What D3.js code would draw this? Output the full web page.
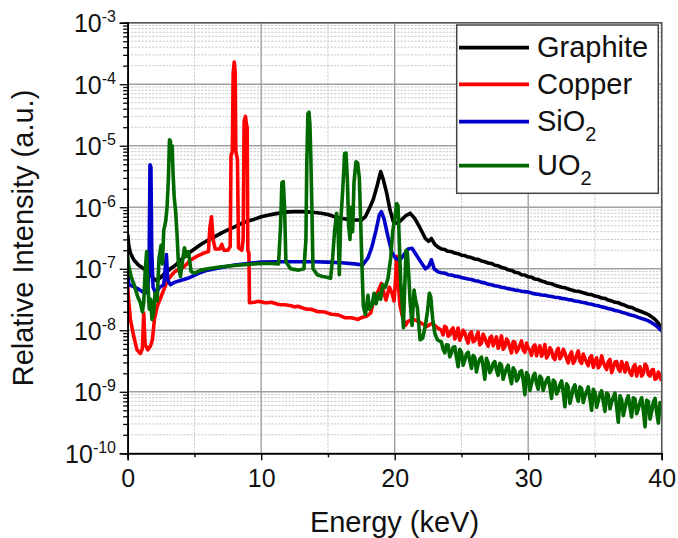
<!DOCTYPE html>
<html>
<head>
<meta charset="utf-8">
<script src="https://cdn.jsdelivr.net/npm/d3@7"></script>
<style>
  body { margin: 0; background: #fff; }
  svg { display: block; }
  text { font-family: "Liberation Sans", Arial, sans-serif; fill: #111; }
</style>
</head>
<body>
<svg id="chart" width="678" height="538"></svg>
<script>
// ---- Spectra: [energy keV, relative intensity] ----
const graphite = [
  [0,3.6e-7],[0.08,2.4e-7],[0.2,1.8e-7],[0.45,1.4e-7],[0.8,1.15e-7],[1.2,1.0e-7],[1.5,9e-8],[1.8,7.5e-8],
  [2.1,6.5e-8],[2.4,7e-8],[2.8,8.5e-8],[3.2,1.0e-7],[3.6,1.15e-7],[4.0,1.4e-7],[4.5,1.75e-7],[5.0,2.1e-7],
  [5.5,2.5e-7],[6.0,2.9e-7],[6.5,3.3e-7],[7.0,3.8e-7],[7.5,4.3e-7],[8.0,4.8e-7],[8.5,5.4e-7],[9.0,6.0e-7],
  [9.5,6.4e-7],[10.0,7.0e-7],[10.5,7.4e-7],[11.0,7.8e-7],[11.5,8.1e-7],[12.0,8.4e-7],[12.5,8.5e-7],[13.0,8.5e-7],
  [13.5,8.4e-7],[14.0,8.2e-7],[14.5,8.0e-7],[15.0,7.6e-7],[15.5,7.0e-7],[16.0,6.6e-7],[16.5,6.3e-7],[17.0,6.2e-7],
  [17.5,6.2e-7],[17.8,7.0e-7],[18.1,9.5e-7],[18.4,1.35e-6],[18.7,2.3e-6],[18.95,3.8e-6],[19.15,2.8e-6],[19.4,1.7e-6],
  [19.65,9e-7],[19.9,5.8e-7],[20.2,5.5e-7],[20.5,6.2e-7],[20.8,7.2e-7],[21.15,8.0e-7],[21.5,6.6e-7],[21.9,4.6e-7],
  [22.3,3.1e-7],[22.55,2.8e-7],[22.75,3.1e-7],[23.0,2.5e-7],[23.25,2.25e-7],
  [23.5,2.1e-7],[23.75,2.05e-7],[24,1.92e-7],[24.25,1.9e-7],[24.5,1.8e-7],[24.75,1.76e-7],[25,1.66e-7],[25.25,1.64e-7],
  [25.5,1.55e-7],[25.75,1.52e-7],[26,1.44e-7],[26.25,1.42e-7],[26.5,1.34e-7],[26.75,1.3e-7],[27,1.24e-7],[27.25,1.22e-7],
  [27.5,1.14e-7],[27.75,1.12e-7],[28,1.05e-7],[28.25,1.02e-7],[28.5,9.6e-8],[28.75,9.4e-8],[29,8.8e-8],[29.25,8.6e-8],
  [29.5,8.0e-8],[29.75,7.9e-8],[30,7.4e-8],[30.25,7.3e-8],[30.5,6.8e-8],[30.75,6.7e-8],[31,6.3e-8],[31.25,6.1e-8],
  [31.5,5.8e-8],[31.75,5.7e-8],[32,5.4e-8],[32.25,5.2e-8],[32.5,5.0e-8],[32.75,4.9e-8],[33,4.7e-8],[33.25,4.5e-8],
  [33.5,4.35e-8],[33.75,4.3e-8],[34,4.15e-8],[34.25,4.0e-8],[34.5,3.85e-8],[34.75,3.8e-8],[35,3.6e-8],[35.25,3.5e-8],
  [35.5,3.35e-8],[35.75,3.3e-8],[36,3.1e-8],[36.25,3.0e-8],[36.5,2.85e-8],[36.75,2.8e-8],[37,2.65e-8],[37.25,2.55e-8],
  [37.5,2.4e-8],[37.75,2.35e-8],[38,2.2e-8],[38.25,2.1e-8],[38.5,2.0e-8],[38.75,1.9e-8],[39,1.8e-8],[39.25,1.65e-8],
  [39.5,1.5e-8],[39.75,1.3e-8],[40,1.08e-8]
];

const copperMain = [
  [0,5.5e-8],[0.05,3.5e-8],[0.2,1.5e-8],[0.45,8e-9],[0.7,4.8e-9],[0.95,4.2e-9],[1.1,5e-9],[1.2,1.9e-8],[1.3,6e-9],
  [1.5,4.8e-9],[1.7,5.5e-9],[1.85,7e-9],[2.0,1.5e-8],[2.2,2.4e-8],[2.6,4e-8],[3.0,6.6e-8],[3.5,8.9e-8],[4.2,1.07e-7],
  [4.7,1.38e-7],[5.2,1.6e-7],[5.7,1.8e-7],[6.05,1.9e-7],[6.15,4.5e-7],[6.28,7e-7],[6.4,3e-7],[6.55,2.1e-7],[6.9,2.1e-7],
  [7.05,2.5e-7],[7.2,2.0e-7],[7.5,2.0e-7],[7.68,2.3e-7],[7.74,7e-6],[7.84,8e-6],[7.9,1.5e-4],[7.98,2.3e-4],[8.05,1.6e-4],
  [8.1,8e-6],[8.22,6e-6],[8.3,2.2e-7],[8.55,2.0e-7],[8.65,3e-7],[8.72,2.5e-5],[8.82,3e-5],[8.9,2.2e-5],[8.95,2e-5],
  [9.0,2.0e-7],[9.08,1.8e-7],[9.12,2.8e-8],
  [9.5,2.85e-8],[10,2.9e-8],[10.5,2.8e-8],[11,2.75e-8],[11.5,2.6e-8],[12,2.55e-8],[12.5,2.4e-8],[13,2.35e-8],
  [13.5,2.2e-8],[14,2.1e-8],[14.5,2.0e-8],[15,1.9e-8],[15.5,1.8e-8],[16,1.7e-8],[16.5,1.6e-8],[17,1.55e-8],
  [17.5,1.6e-8],[17.9,1.7e-8],[18.2,1.9e-8],[18.5,3.5e-8],[18.8,4.5e-8],[19.0,5.8e-8],[19.2,4e-8],[19.35,3.1e-8],
  [19.6,5e-8],[19.8,4e-8],[19.95,3.0e-8],[20.05,6e-8],[20.15,1.6e-7],[20.25,6e-8],[20.4,2.5e-8],[20.6,1.6e-8],
  [20.8,1.2e-8],[21.0,1.4e-8],[21.3,1.5e-8],[21.6,1.45e-8],[22.0,1.3e-8],[22.4,1.15e-8],[22.8,1.3e-8],[23.2,1.1e-8],
  [23.5,1.0e-8],[23.75,1.16e-8],[24,8.0e-9],[24.25,1.01e-8],[24.5,7.2e-9],[24.75,1.09e-8],[25,8.1e-9],[25.25,9.1e-9],
  [25.5,6.2e-9],[25.75,9.4e-9],[26,6.8e-9],[26.25,9.3e-9],[26.5,6.2e-9],[26.75,7.5e-9],[27,5.5e-9],[27.25,8.0e-9],
  [27.5,6.55e-9],[27.75,5.1e-9],[28,8.1e-9],[28.25,5.4e-9],[28.5,6.5e-9],[28.75,4.3e-9],[29,6.4e-9],[29.25,4.95e-9],
  [29.5,6.7e-9],[29.75,4.4e-9],[30,5.1e-9],[30.25,3.9e-9],[30.5,5.8e-9],[30.75,4.9e-9],[31,3.8e-9],[31.25,5.85e-9],
  [31.5,3.95e-9],[31.75,4.7e-9],[32,3.35e-9],[32.25,5.1e-9],[32.5,3.8e-9],[32.75,4.3e-9],[33,2.95e-9],[33.25,4.45e-9],
  [33.5,3.25e-9],[33.75,4.6e-9],[34,2.9e-9],[34.25,3.5e-9],[34.5,2.65e-9],[34.75,3.85e-9],[35,3.1e-9],[35.25,2.45e-9],
  [35.5,3.85e-9],[35.75,2.6e-9],[36,3.1e-9],[36.25,2.05e-9],[36.5,3.05e-9],[36.75,2.35e-9],[37,3.1e-9],[37.25,2.1e-9],
  [37.5,2.4e-9],[37.75,1.85e-9],[38,2.75e-9],[38.25,2.35e-9],[38.5,1.8e-9],[38.75,2.8e-9],[39,1.9e-9],[39.25,2.25e-9],
  [39.5,1.6e-9],[39.75,2.1e-9],[40,1.5e-9]
];
// in-between readings of the copper continuum
const copperFill = [
  [9.75,2.95e-8],[10.25,2.8e-8],[10.75,2.85e-8],[11.25,2.65e-8],[11.75,2.6e-8],[12.25,2.5e-8],[12.75,2.45e-8],
  [13.25,2.25e-8],[13.75,2.2e-8],[14.25,2.0e-8],[14.75,1.98e-8],[15.25,1.82e-8],[15.75,1.78e-8],[16.25,1.6e-8],
  [16.75,1.6e-8],[17.25,1.5e-8],
  [23.625,8.4e-9],[23.875,1.1e-8],[24.125,8.4e-9],[24.375,1.09e-8],[24.625,8.4e-9],[24.875,6.9e-9],[25.125,1.0e-8],
  [25.375,7.3e-9],[25.625,8.7e-9],[25.875,6.5e-9],[26.125,7.9e-9],[26.375,5.8e-9],[26.625,8.6e-9],[26.875,6.3e-9],
  [27.125,7.5e-9],[27.375,5.6e-9],[27.625,7.8e-9],[27.875,6.0e-9],[28.125,4.9e-9],[28.375,7.2e-9],[28.625,5.2e-9],
  [28.875,6.55e-9],[29.125,4.4e-9],[29.375,5.7e-9],[29.625,4.8e-9],[29.875,6.2e-9],[30.125,4.75e-9],[30.375,5.4e-9],
  [30.625,3.85e-9],[30.875,5.6e-9],[31.125,4.3e-9],[31.375,3.55e-9],[31.625,5.2e-9],[31.875,3.6e-9],[32.125,4.55e-9],
  [32.375,3.45e-9],[32.625,4.9e-9],[32.875,3.45e-9],[33.125,3.95e-9],[33.375,2.9e-9],[33.625,3.95e-9],[33.875,3.15e-9],
  [34.125,4.1e-9],[34.375,3.0e-9],[34.625,3.6e-9],[34.875,2.5e-9],[35.125,3.55e-9],[35.375,2.7e-9],[35.625,3.05e-9],
  [35.875,2.3e-9],[36.125,3.35e-9],[36.375,2.45e-9],[36.625,3.1e-9],[36.875,2.15e-9],[37.125,2.6e-9],[37.375,2.95e-9],
  [37.625,2.05e-9],[37.875,2.55e-9],[38.125,1.8e-9],[38.375,2.55e-9],[38.625,2.0e-9],[38.875,2.6e-9],[39.125,1.8e-9],
  [39.375,2.3e-9],[39.625,1.65e-9],[39.875,1.8e-9]
];

const sio2 = [
  [0,8e-8],[0.1,5.5e-8],[0.4,5.2e-8],[0.7,4.8e-8],[1.0,4.4e-8],[1.3,4.0e-8],[1.5,4.2e-8],[1.6,1e-7],[1.67,4.9e-6],
  [1.74,4.5e-6],[1.8,2e-7],[1.9,5e-8],[2.1,4.0e-8],[2.4,5.0e-8],[2.7,5.5e-8],[2.9,1.7e-7],[3.0,6.5e-8],[3.2,5.5e-8],
  [3.5,6.0e-8],[4.0,6.5e-8],[4.5,7.0e-8],[5.0,7.8e-8],[5.5,8.8e-8],[6.0,9.5e-8],[7.0,1.05e-7],[8.0,1.15e-7],
  [9.0,1.22e-7],[10,1.28e-7],[11,1.3e-7],[12,1.3e-7],[13,1.3e-7],[14,1.3e-7],[15,1.28e-7],[16,1.25e-7],[17,1.2e-7],
  [17.6,1.15e-7],[18.0,1.5e-7],[18.3,2.3e-7],[18.6,4.2e-7],[18.85,7.5e-7],[19.0,8.5e-7],[19.2,6.5e-7],[19.5,3.3e-7],
  [19.8,1.8e-7],[20.1,1.45e-7],[20.4,1.4e-7],[20.7,1.7e-7],[21.0,2.1e-7],[21.3,2.15e-7],[21.6,1.7e-7],[21.9,1.35e-7],
  [22.3,1.0e-7],[22.55,1.1e-7],[22.75,1.4e-7],[22.95,1.0e-7],[23.25,8.9e-8],
  [23.5,8.6e-8],[23.75,8.5e-8],[24,8.0e-8],[24.25,7.9e-8],[24.5,7.6e-8],[24.75,7.5e-8],[25,7.2e-8],[25.25,7.0e-8],
  [25.5,6.8e-8],[25.75,6.7e-8],[26,6.4e-8],[26.25,6.3e-8],[26.5,6.0e-8],[26.75,5.9e-8],[27,5.6e-8],[27.25,5.5e-8],
  [27.5,5.3e-8],[27.75,5.2e-8],[28,5.0e-8],[28.25,4.9e-8],[28.5,4.75e-8],[28.75,4.65e-8],[29,4.5e-8],[29.25,4.45e-8],
  [29.5,4.3e-8],[29.75,4.25e-8],[30,4.2e-8],[30.25,4.05e-8],[30.5,3.9e-8],[30.75,3.85e-8],[31,3.75e-8],[31.25,3.7e-8],
  [31.5,3.6e-8],[31.75,3.55e-8],[32,3.45e-8],[32.25,3.4e-8],[32.5,3.3e-8],[32.75,3.25e-8],[33,3.15e-8],[33.25,3.1e-8],
  [33.5,3.0e-8],[33.75,2.95e-8],[34,2.85e-8],[34.25,2.8e-8],[34.5,2.7e-8],[34.75,2.65e-8],[35,2.55e-8],[35.25,2.5e-8],
  [35.5,2.4e-8],[35.75,2.35e-8],[36,2.25e-8],[36.25,2.2e-8],[36.5,2.1e-8],[36.75,2.05e-8],[37,1.97e-8],[37.25,1.9e-8],
  [37.5,1.82e-8],[37.75,1.75e-8],[38,1.7e-8],[38.25,1.62e-8],[38.5,1.55e-8],[38.75,1.5e-8],[39,1.42e-8],[39.25,1.33e-8],
  [39.5,1.22e-8],[39.75,1.1e-8],[40,9.8e-9]
];

const uo2Main = [
  [0,1.6e-7],[0.05,1.2e-7],[0.25,7.5e-8],[0.5,5.3e-8],[0.75,3.5e-8],[0.95,2.8e-8],[1.1,2e-8],[1.2,2.8e-8],[1.32,1.0e-7],
  [1.42,1.9e-7],[1.5,6e-8],[1.62,2.2e-8],[1.72,3.2e-8],[1.82,1.5e-8],[1.95,2e-8],[2.05,4e-8],[2.2,3.0e-8],[2.35,1.5e-7],
  [2.5,2.4e-7],[2.6,1.2e-7],[2.7,4.2e-7],[2.85,6e-7],[2.95,1.0e-6],[3.05,3e-6],[3.13,1.25e-5],[3.2,1.2e-5],[3.27,6e-6],
  [3.33,1.0e-5],[3.4,3.5e-6],[3.48,1.5e-6],[3.6,8e-7],[3.7,3.5e-7],[3.8,1.2e-7],[3.95,7.5e-8],[4.1,1.3e-7],[4.25,2.2e-7],
  [4.4,1.6e-7],[4.55,1.9e-7],[4.75,9e-8],[5.0,8.5e-8],[5.5,9.5e-8],[6.0,1.0e-7],[7,1.08e-7],[8,1.13e-7],[9,1.18e-7],
  [10,1.22e-7],[10.8,1.22e-7],[11.3,1.2e-7],[11.45,5e-7],[11.55,2.5e-6],[11.65,2.6e-6],[11.75,1.0e-6],[11.85,1.3e-7],
  [12.2,1.0e-7],[12.8,9.5e-8],[13.2,1.0e-7],[13.35,3e-7],[13.42,6e-6],[13.5,3.3e-5],[13.58,3.5e-5],[13.65,2.2e-5],
  [13.72,6e-6],[13.8,9e-7],[13.88,1.0e-7],[14.2,8e-8],[14.6,7.5e-8],[15.0,7.2e-8],[15.2,7.0e-8],[15.35,1.5e-7],
  [15.5,4.2e-7],[15.65,8e-7],[15.75,5e-7],[15.85,8e-8],[15.95,5.5e-7],[16.1,1.8e-6],[16.25,7.5e-6],[16.35,7.6e-6],
  [16.45,3e-6],[16.55,5e-7],[16.65,3e-7],[16.75,1.0e-6],[16.85,4e-7],[16.95,2.5e-6],[17.1,5.5e-6],[17.22,5.3e-6],
  [17.35,3e-6],[17.45,6e-7],[17.55,1.1e-7],[17.65,2.5e-8],[17.8,1.8e-8],[17.9,2.5e-8],[18.0,3.7e-8],[18.1,2.2e-8],
  [18.3,2.5e-8],[18.45,4e-8],[18.6,2.7e-8],[18.8,4e-8],[18.95,3.2e-8],[19.1,5.5e-8],[19.3,5e-8],[19.5,7e-8],
  [19.7,1.5e-7],[19.85,4e-7],[20.0,6.5e-7],[20.15,1.15e-6],[20.25,1.05e-6],[20.35,2.5e-7],[20.45,6e-8],[20.55,3e-8],
  [20.65,1.1e-8],[20.75,5e-8],[20.85,2.0e-7],[20.95,1.8e-7],[21.05,8e-8],[21.15,3e-8],[21.3,1.2e-8],[21.45,4.5e-8],
  [21.55,3.2e-8],[21.7,2.3e-8],[21.9,7e-9],[22.1,7.5e-9],[22.3,1.2e-8],[22.45,2e-8],[22.6,4e-8],[22.7,3.5e-8],
  [22.85,1.5e-8],[23.0,9e-9],[23.2,7e-9],
  [23.5,6.5e-9],[23.75,4.3e-9],[24,5.75e-9],[24.25,4.3e-9],[24.5,5.4e-9],[24.75,2.55e-9],[25,4.4e-9],[25.25,3.25e-9],
  [25.5,4.4e-9],[25.75,2.4e-9],[26,3.6e-9],[26.25,2.9e-9],[26.5,3.65e-9],[26.75,1.6e-9],[27,2.95e-9],[27.25,2.3e-9],
  [27.5,3.1e-9],[27.75,1.85e-9],[28,2.7e-9],[28.25,2.0e-9],[28.5,2.7e-9],[28.75,1.35e-9],[29,2.2e-9],[29.25,1.65e-9],
  [29.5,2.2e-9],[29.75,9e-10],[30,1.85e-9],[30.25,1.35e-9],[30.5,2.0e-9],[30.75,1.1e-9],[31,1.65e-9],[31.25,1.3e-9],
  [31.5,1.7e-9],[31.75,7.8e-10],[32,1.45e-9],[32.25,1.05e-9],[32.5,1.5e-9],[32.75,5.7e-10],[33,1.2e-9],[33.25,8.6e-10],
  [33.5,1.3e-9],[33.75,7e-10],[34,1.13e-9],[34.25,8.6e-10],[34.5,1.2e-9],[34.75,5e-10],[35,9.7e-10],[35.25,7.2e-10],
  [35.5,1.04e-9],[35.75,4.8e-10],[36,9e-10],[36.25,6.8e-10],[36.5,9.5e-10],[36.75,3.2e-10],[37,7.5e-10],[37.25,5.4e-10],
  [37.5,8.6e-10],[37.75,3.9e-10],[38,7.6e-10],[38.25,5.3e-10],[38.5,8e-10],[38.75,2.7e-10],[39,6.9e-10],[39.25,4.8e-10],
  [39.5,7.8e-10],[39.75,3.1e-10],[40,5.5e-10]
];
// in-between readings of the UO2 high-energy tail
const uo2Fill = [
  [23.625,4.9e-9],[23.875,5.8e-9],[24.125,3.7e-9],[24.375,5.3e-9],[24.625,3.7e-9],[24.875,4.9e-9],[25.125,2.7e-9],
  [25.375,4.1e-9],[25.625,3.2e-9],[25.875,3.9e-9],[26.125,2.1e-9],[26.375,3.4e-9],[26.625,2.55e-9],[26.875,3.5e-9],
  [27.125,2.05e-9],[27.375,2.9e-9],[27.625,2.25e-9],[27.875,2.9e-9],[28.125,1.6e-9],[28.375,2.4e-9],[28.625,1.8e-9],
  [28.875,2.45e-9],[29.125,1.5e-9],[29.375,2.1e-9],[29.625,1.55e-9],[29.875,2.05e-9],[30.125,1.05e-9],[30.375,1.8e-9],
  [30.625,1.35e-9],[30.875,1.8e-9],[31.125,1.05e-9],[31.375,1.55e-9],[31.625,1.2e-9],[31.875,1.55e-9],[32.125,9.2e-10],
  [32.375,1.3e-9],[32.625,9.9e-10],[32.875,1.35e-9],[33.125,6.5e-10],[33.375,1.15e-9],[33.625,8.7e-10],[33.875,1.2e-9],
  [34.125,6.7e-10],[34.375,1.0e-9],[34.625,7.7e-10],[34.875,1.1e-9],[35.125,5.6e-10],[35.375,9.2e-10],[35.625,6.9e-10],
  [35.875,9.5e-10],[36.125,5.3e-10],[36.375,8.1e-10],[36.625,5.7e-10],[36.875,8.6e-10],[37.125,4.1e-10],[37.375,7.3e-10],
  [37.625,5.6e-10],[37.875,8.0e-10],[38.125,4.4e-10],[38.375,6.8e-10],[38.625,4.9e-10],[38.875,7.3e-10],[39.125,3.6e-10],
  [39.375,6.8e-10],[39.625,4.6e-10],[39.875,6.7e-10]
];

const byEnergy = (a, b) => a[0] - b[0];
const copper = copperMain.concat(copperFill).sort(byEnergy);
const uo2 = uo2Main.concat(uo2Fill).sort(byEnergy);

const seriesData   = [graphite, copper, sio2, uo2];
const seriesColors = ["#000000", "#ff0000", "#0000c8", "#006a00"];
const legendMain   = ["Graphite", "Copper", "SiO", "UO"];
const legendSub    = ["", "", "2", "2"];

const xTicks      = [0, 10, 20, 30, 40];
const xMinorTicks = [5, 15, 25, 35];
const yTickExps   = [-10, -9, -8, -7, -6, -5, -4, -3];

// ---- Layout ----
const svg = d3.select("#chart");
const plot = { left: 127.7, top: 22.7, right: 661.7, bottom: 453.3 };

const x = d3.scaleLinear().domain([0, 40]).range([plot.left, plot.right]);
const y = d3.scaleLog().domain([1e-10, 1e-3]).range([plot.bottom, plot.top]);

const yMajor = yTickExps.map(e => Math.pow(10, e));
const yMinor = [];
yTickExps.slice(0, -1).forEach(e => {
  for (let m = 2; m <= 9; m++) yMinor.push(m * Math.pow(10, e));
});

// ---- Grid ----
const grid = svg.append("g");
grid.selectAll(".ymin").data(yMinor).join("line")
  .attr("x1", plot.left).attr("x2", plot.right)
  .attr("y1", d => y(d)).attr("y2", d => y(d))
  .attr("stroke", "#c4c4c4").attr("stroke-width", 1).attr("stroke-dasharray", "2,1.5");
grid.selectAll(".xmin").data(xMinorTicks).join("line")
  .attr("x1", d => x(d)).attr("x2", d => x(d))
  .attr("y1", plot.top).attr("y2", plot.bottom)
  .attr("stroke", "#c4c4c4").attr("stroke-width", 1).attr("stroke-dasharray", "2,1.5");
grid.selectAll(".ymaj").data(yMajor).join("line")
  .attr("x1", plot.left).attr("x2", plot.right)
  .attr("y1", d => y(d)).attr("y2", d => y(d))
  .attr("stroke", "#a0a0a0").attr("stroke-width", 1.4);
grid.selectAll(".xmaj").data(xTicks).join("line")
  .attr("x1", d => x(d)).attr("x2", d => x(d))
  .attr("y1", plot.top).attr("y2", plot.bottom)
  .attr("stroke", "#a0a0a0").attr("stroke-width", 1.4);

// ---- Spectra ----
svg.append("clipPath").attr("id", "plotClip").append("rect")
  .attr("x", plot.left).attr("y", plot.top)
  .attr("width", plot.right - plot.left).attr("height", plot.bottom - plot.top);

const line = d3.line().x(d => x(d[0])).y(d => y(d[1]));
svg.append("g").attr("clip-path", "url(#plotClip)")
  .selectAll("path").data(seriesData).join("path")
  .attr("d", line)
  .attr("fill", "none")
  .attr("stroke", (d, i) => seriesColors[i])
  .attr("stroke-width", 3.6)
  .attr("stroke-linejoin", "round");

// ---- Frame (top/right) ----
svg.append("path")
  .attr("d", `M${plot.left},${plot.top}H${plot.right}V${plot.bottom}`)
  .attr("fill", "none").attr("stroke", "#555").attr("stroke-width", 1.5);

// ---- Axes ----
const axisFont = 25;
const gx = svg.append("g").attr("transform", `translate(0,${plot.bottom})`);
gx.call(d3.axisBottom(x).tickValues(xTicks).tickSize(7).tickPadding(9).tickFormat(d3.format("d")));
gx.append("g").call(d3.axisBottom(x).tickValues(xMinorTicks).tickSize(4).tickFormat(""));
gx.selectAll("path.domain").attr("stroke", "#000").attr("stroke-width", 1.6);
gx.selectAll(".tick line").attr("stroke", "#000").attr("stroke-width", 1.4);
gx.selectAll(".tick text").attr("font-size", axisFont).attr("font-family", "Liberation Sans, Arial, sans-serif").attr("fill", "#111");

const gy = svg.append("g").attr("transform", `translate(${plot.left},0)`);
gy.call(d3.axisLeft(y).tickValues(yMajor).tickSize(8).tickFormat(""));
gy.append("g").call(d3.axisLeft(y).tickValues(yMinor).tickSize(4.5).tickFormat(""));
gy.selectAll("path.domain").attr("stroke", "#000").attr("stroke-width", 1.6);
gy.selectAll(".tick line").attr("stroke", "#000").attr("stroke-width", 1.3);

const yLab = svg.append("g");
yTickExps.forEach(e => {
  const t = yLab.append("text")
    .attr("x", 116).attr("y", y(Math.pow(10, e)) + 9.5)
    .attr("text-anchor", "end").attr("font-size", axisFont);
  t.append("tspan").text("10");
  t.append("tspan").attr("dy", -10).attr("font-size", 16).text(String(e));
});

// ---- Axis titles ----
svg.append("text")
  .attr("x", 394.5).attr("y", 532)
  .attr("text-anchor", "middle").attr("font-size", 29)
  .text("Energy (keV)");
svg.append("text")
  .attr("transform", `translate(33,${(plot.top + plot.bottom) / 2}) rotate(-90)`)
  .attr("text-anchor", "middle").attr("font-size", 29)
  .text("Relative Intensity (a.u.)");

// ---- Legend ----
const lg = svg.append("g");
lg.append("rect")
  .attr("x", 456.7).attr("y", 25).attr("width", 201.6).attr("height", 168.3)
  .attr("fill", "#fff").attr("stroke", "#444").attr("stroke-width", 1.5);
const rowY = [47.7, 84.3, 121.7, 165.7];
legendMain.forEach((name, i) => {
  lg.append("line")
    .attr("x1", 459).attr("x2", 529).attr("y1", rowY[i]).attr("y2", rowY[i])
    .attr("stroke", seriesColors[i]).attr("stroke-width", 3.8);
  const t = lg.append("text")
    .attr("x", 537).attr("y", rowY[i] + 9.5).attr("font-size", 29);
  t.append("tspan").text(name);
  if (legendSub[i]) t.append("tspan").attr("dy", 10).attr("font-size", 20).text(legendSub[i]);
});
</script>
</body>
</html>
